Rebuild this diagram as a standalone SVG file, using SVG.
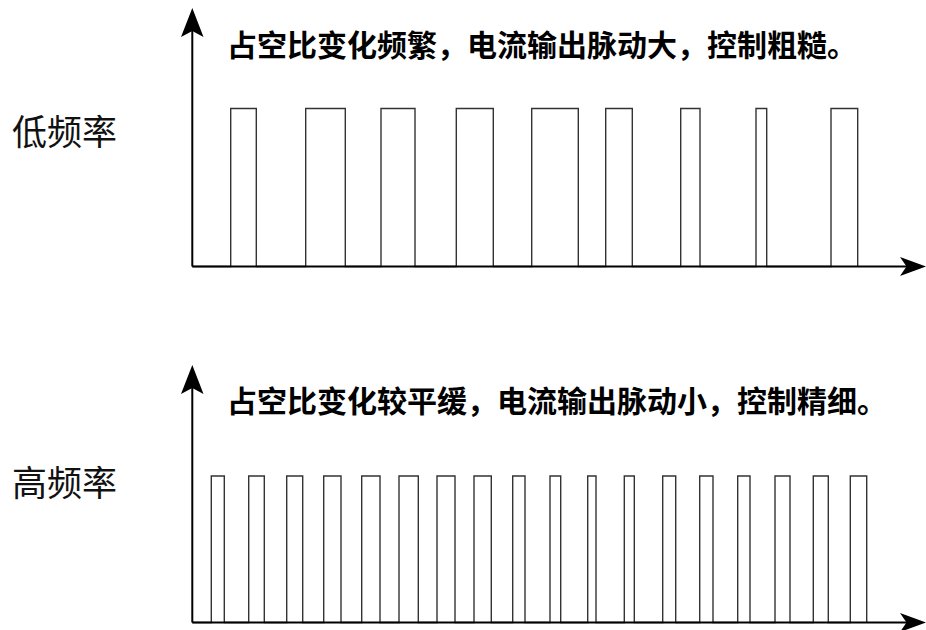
<svg xmlns="http://www.w3.org/2000/svg" width="926" height="630" viewBox="0 0 926 630">
<style>
.cap{font-family:"Noto Sans CJK SC","Noto Sans CJK JP",sans-serif;font-size:30px;font-weight:bold;fill:#000}
.lbl{font-family:"Noto Sans CJK SC","Noto Sans CJK JP",sans-serif;font-size:35px;font-weight:normal;fill:#111}
.axis{stroke:#000;stroke-width:2;fill:none}
.pulse{stroke:#333;stroke-width:1.4;fill:none}
.head{fill:#000;stroke:none}
</style>
<rect width="926" height="630" fill="#fff"/>
<g id="low-frequency">
<text class="lbl" x="12" y="145">低频率</text>
<text class="cap" x="227" y="56">占空比变化频繁，电流输出脉动大，控制粗糙。</text>
<path class="pulse" d="M192.3,266.5 H230.7 V108.5 H256.3 V266.5 H305.7 V108.5 H345.3 V266.5 H381 V108.5 H415 V266.5 H456.3 V108.5 H493.3 V266.5 H531.7 V108.5 H578.3 V266.5 H605.7 V108.5 H632.3 V266.5 H680.7 V108.5 H700 V266.5 H756 V108.5 H766.7 V266.5 H831 V108.5 H857.7 V266.5"/>
</g>
<g id="high-frequency">
<text class="lbl" x="12" y="496">高频率</text>
<text class="cap" x="227" y="412">占空比变化较平缓，电流输出脉动小，控制精细。</text>
<path class="pulse" d="M192.3,622.5 H211.3 V476 H224.3 V622.5 H248.7 V476 H264.3 V622.5 H286.7 V476 H302.7 V622.5 H323.7 V476 H341 V622.5 H361.7 V476 H380 V622.5 H399 V476 H418.3 V622.5 H437 V476 H455 V622.5 H474 V476 H491.3 V622.5 H512.7 V476 H525 V622.5 H550 V476 H560.7 V622.5 H587.7 V476 H596 V622.5 H624.3 V476 H634.3 V622.5 H662.7 V476 H675.7 V622.5 H699.7 V476 H713 V622.5 H737.7 V476 H750 V622.5 H775 V476 H790 V622.5 H813.3 V476 H828.3 V622.5 H850.3 V476 H866.7 V622.5"/>
</g>
<g id="connectors">
<path class="axis" d="M192.3,266.5 V28 M192.3,266.5 H908"/>
<path class="head" d="M192.3,8 L203.5,37 L192.3,31 L181,37 Z"/>
<path class="head" d="M926,266.5 L900,257 L906.5,266.5 L900,276 Z"/>
<path class="axis" d="M192.3,622.5 V385 M192.3,622.5 H908"/>
<path class="head" d="M192.3,365 L203.5,394 L192.3,388 L181,394 Z"/>
<path class="head" d="M926,622.5 L900,613 L906.5,622.5 L900,632 Z"/>
</g>
</svg>
